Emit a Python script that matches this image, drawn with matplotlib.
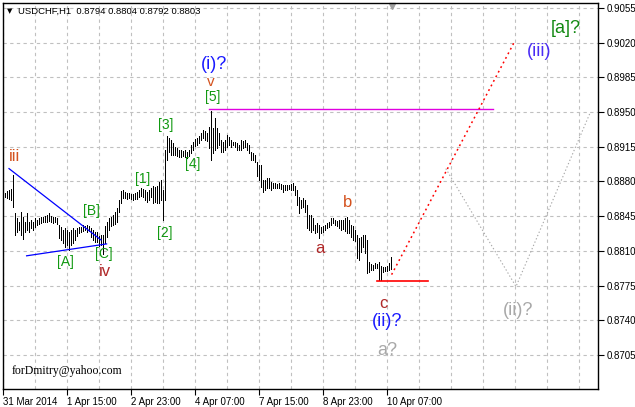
import numpy as np
import matplotlib.pyplot as plt

# USDCHF H1 bars, high / low in pips (price * 10000)
high_pips = [8868, 8870, 8871, 8872, 8887, 8848, 8843, 8839, 8849, 8844,
             8839, 8848, 8839, 8841, 8839, 8843, 8841, 8843, 8844, 8844,
             8845, 8846, 8848, 8845, 8844, 8844, 8843, 8836, 8834, 8831,
             8833, 8831, 8829, 8831, 8833, 8831, 8833, 8834, 8834, 8836,
             8835, 8836, 8835, 8833, 8831, 8829, 8829, 8825, 8826, 8826,
             8835, 8839, 8843, 8844, 8846, 8849, 8853, 8861, 8870, 8871,
             8869, 8868, 8868, 8867, 8867, 8868, 8869, 8871, 8873, 8872,
             8871, 8869, 8871, 8873, 8875, 8874, 8875, 8879, 8881, 8871,
             8912, 8926, 8924, 8922, 8919, 8915, 8914, 8912, 8912, 8911,
             8912, 8910, 8912, 8917, 8920, 8923, 8924, 8926, 8929, 8932,
             8931, 8929, 8935, 8951, 8934, 8944, 8934, 8929, 8922, 8920,
             8922, 8927, 8925, 8922, 8920, 8920, 8919, 8917, 8922, 8921,
             8922, 8919, 8917, 8910, 8909, 8907, 8900, 8897, 8897, 8881,
             8881, 8884, 8884, 8879, 8878, 8878, 8877, 8878, 8877, 8876,
             8876, 8876, 8876, 8877, 8878, 8875, 8871, 8864, 8861, 8863,
             8861, 8856, 8846, 8846, 8843, 8836, 8838, 8836, 8834, 8835,
             8836, 8838, 8839, 8843, 8843, 8841, 8840, 8841, 8841, 8841,
             8843, 8844, 8841, 8836, 8835, 8831, 8826, 8823, 8824, 8826,
             8826, 8821, 8799, 8797, 8796, 8798, 8797, 8799, 8795, 8794,
             8794, 8795, 8798, 8804]
low_pips = [8864, 8863, 8862, 8861, 8854, 8826, 8829, 8831, 8826, 8822,
            8829, 8831, 8829, 8833, 8831, 8834, 8836, 8837, 8838, 8839,
            8839, 8839, 8840, 8839, 8838, 8839, 8837, 8823, 8821, 8818,
            8814, 8816, 8811, 8816, 8818, 8821, 8825, 8828, 8829, 8830,
            8831, 8829, 8830, 8824, 8821, 8819, 8819, 8815, 8816, 8807,
            8818, 8824, 8831, 8835, 8836, 8837, 8839, 8849, 8858, 8863,
            8863, 8862, 8863, 8862, 8861, 8862, 8862, 8864, 8865, 8864,
            8861, 8859, 8861, 8864, 8858, 8859, 8858, 8858, 8861, 8841,
            8861, 8902, 8910, 8907, 8907, 8907, 8906, 8905, 8905, 8906,
            8905, 8904, 8906, 8909, 8912, 8916, 8917, 8919, 8922, 8924,
            8922, 8921, 8914, 8902, 8909, 8912, 8914, 8917, 8910, 8910,
            8912, 8915, 8917, 8915, 8917, 8915, 8912, 8912, 8912, 8914,
            8915, 8912, 8909, 8902, 8902, 8900, 8886, 8881, 8874, 8869,
            8871, 8873, 8873, 8871, 8873, 8873, 8873, 8873, 8872, 8869,
            8871, 8871, 8872, 8871, 8871, 8866, 8856, 8848, 8853, 8854,
            8849, 8833, 8831, 8829, 8831, 8828, 8829, 8823, 8828, 8829,
            8831, 8833, 8834, 8836, 8838, 8836, 8835, 8833, 8831, 8832,
            8830, 8828, 8828, 8824, 8821, 8820, 8803, 8801, 8809, 8814,
            8808, 8788, 8789, 8791, 8791, 8793, 8793, 8781, 8781, 8789,
            8790, 8790, 8791, 8792]

time_labels = ['31 Mar 2014', '1 Apr 15:00', '2 Apr 23:00', '4 Apr 07:00',
               '7 Apr 15:00', '8 Apr 23:00', '10 Apr 07:00']
price_ticks = [0.8705, 0.8740, 0.8775, 0.8810, 0.8845, 0.8880, 0.8915,
               0.8950, 0.8985, 0.9020, 0.9055]

# lines drawn on the chart (bar index, price)
tri_top_x, tri_top_y = [2, 48], [0.8893, 0.8821]
tri_bot_x, tri_bot_y = [10.8, 50.8], [0.8805, 0.8817]
top5_x, top5_y = [102, 244], [0.8953, 0.8953]
lowc_x, lowc_y = [186, 211.5], [0.8780, 0.8780]
proj_iii_x, proj_iii_y = [193.3, 255], [0.8786, 0.9022]
proj_ii_x, proj_ii_y = [220.4, 255.5, 292.5], [0.8893, 0.8774, 0.8949]

highs = np.array(high_pips) / 10000
lows = np.array(low_pips) / 10000
idx = np.arange(len(highs))

fig = plt.figure(figsize=(6.35, 4.07), dpi=100)
ax = fig.add_axes([3/635, 18/407, 595/635, 386/407])
ax.set_xlim(-1, 296.5)
ax.set_ylim(0.86706, 0.90601)

# grid
ax.set_xticks([-1 + 32*k for k in range(len(time_labels))])
ax.set_xticklabels(time_labels, ha='left', fontsize=7, family='Liberation Sans')
ax.set_xticks([-1 + 16*k for k in range(1, 19)], minor=True)
ax.set_yticks(price_ticks)
ax.set_yticklabels(['%.4f' % p for p in price_ticks], fontsize=7, family='Liberation Sans')
ax.yaxis.tick_right()
ax.tick_params(axis='x', which='major', length=4, pad=2, color='black')
ax.tick_params(axis='x', which='minor', length=0)
ax.tick_params(axis='y', length=4, pad=2)
ax.grid(True, which='both', color='#c0c0c0', linestyle=(0, (3, 3)), linewidth=0.8)
ax.set_axisbelow(True)
for s in ax.spines.values():
    s.set_color('black')
    s.set_linewidth(1)

# price bars
ax.vlines(idx, lows, highs, colors='black', linewidth=0.72, antialiased=False)

# wave structure lines
ax.plot(tri_top_x, tri_top_y, color='#0000ff', lw=0.9)
ax.plot(tri_bot_x, tri_bot_y, color='#0000ff', lw=0.9)
ax.plot(top5_x, top5_y, color='#e000e0', lw=1)
ax.plot(lowc_x, lowc_y, color='#ff0000', lw=1.2)
ax.plot(proj_iii_x, proj_iii_y, color='#ff0000', lw=1.1, linestyle=(0, (1.2, 2.2)))
ax.plot(proj_ii_x, proj_ii_y, color='#a8a8a8', lw=0.8, linestyle=(0, (1.2, 2)))

# shift marker at top
ax.plot([193.5], [0.9057], marker='v', color='#a0a0a0', ms=5, clip_on=False)

green = '#119911'
blue = '#1a1aff'
orange = '#d4521e'
brown = '#b02828'
gray = '#a8a8a8'
lf = 'Liberation Sans'
labels = [
    (5, 0.8905, 'iii', orange, 12),
    (30.25, 0.8799, '[A]', green, 10),
    (43.25, 0.8850, '[B]', green, 10),
    (49.25, 0.8807, '[C]', green, 10),
    (49.75, 0.8789, 'iv', brown, 12),
    (68.75, 0.8883, '[1]', green, 10),
    (79.75, 0.8828, '[2]', green, 10),
    (80.25, 0.8937, '[3]', green, 10),
    (93.75, 0.8898, '[4]', green, 10),
    (103.75, 0.8965, '[5]', green, 10),
    (103, 0.8980, 'v', orange, 11),
    (104.5, 0.8998, '(i)?', blue, 13),
    (157.5, 0.8812, 'a', brown, 12),
    (171.5, 0.8859, 'b', orange, 12),
    (189, 0.8757, 'c', brown, 12),
    (191, 0.8739, '(ii)?', blue, 13),
    (191, 0.8709, 'a?', gray, 13),
    (256.5, 0.8750, '(ii)?', gray, 13),
    (267, 0.9011, '(iii)', '#4a2cf5', 13),
    (280.5, 0.9034, '[a]?', '#118811', 13),
]
for x, y, t, c, fs in labels:
    ax.text(x, y, t, color=c, fontsize=fs, family=lf, ha='center', va='center')

# header and watermark
fig.text(7/635, 1 - 11/407, '\u25bc', fontsize=5, color='black', va='center')
fig.text(18/635, 1 - 11/407, 'USDCHF,H1  0.8794 0.8804 0.8792 0.8803',
         fontsize=6.8, family=lf, color='black', va='center')
fig.text(12/635, 1 - 371/407, 'forDmitry@yahoo.com', fontsize=8.5,
         family='Liberation Serif', color='black', va='center')

fig.savefig('out.png', dpi=100, facecolor='white')
